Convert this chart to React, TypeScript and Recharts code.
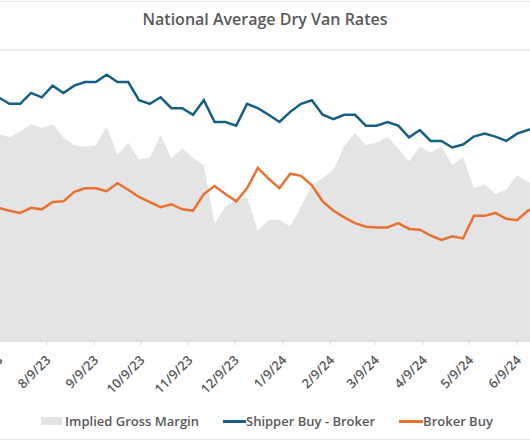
import { ComposedChart, Area, Line, XAxis, YAxis, CartesianGrid } from 'recharts';

// weekly observations (first and last are just off the visible edge)
const weeks = [
  '7/2/23', '7/9/23', '7/16/23', '7/23/23', '7/30/23', '8/6/23', '8/13/23', '8/20/23', '8/27/23',
  '9/3/23', '9/10/23', '9/17/23', '9/24/23', '10/1/23', '10/8/23', '10/15/23', '10/22/23', '10/29/23',
  '11/5/23', '11/12/23', '11/19/23', '11/26/23', '12/3/23', '12/10/23', '12/17/23', '12/24/23', '12/31/23',
  '1/7/24', '1/14/24', '1/21/24', '1/28/24', '2/4/24', '2/11/24', '2/18/24', '2/25/24', '3/3/24',
  '3/10/24', '3/17/24', '3/24/24', '3/31/24', '4/7/24', '4/14/24', '4/21/24', '4/28/24', '5/5/24',
  '5/12/24', '5/19/24', '5/26/24', '6/2/24', '6/9/24', '6/16/24', '6/23/24',
];

// $/mile
const shipperBuy = [
  3.30, 3.35, 3.26, 3.26, 3.41, 3.35, 3.51, 3.41, 3.51, 3.56,
  3.56, 3.66, 3.56, 3.56, 3.31, 3.26, 3.35, 3.20, 3.20, 3.11,
  3.31, 3.01, 3.01, 2.96, 3.26, 3.20, 3.11, 3.01, 3.15, 3.26,
  3.31, 3.11, 3.05, 3.11, 3.11, 2.96, 2.96, 3.01, 2.96, 2.80,
  2.90, 2.75, 2.75, 2.66, 2.70, 2.81, 2.85, 2.81, 2.75, 2.85,
  2.90, 2.93,
];

const brokerBuy = [
  1.85, 1.83, 1.79, 1.76, 1.83, 1.81, 1.91, 1.92, 2.05, 2.10,
  2.10, 2.06, 2.17, 2.08, 1.98, 1.91, 1.84, 1.88, 1.81, 1.79,
  2.02, 2.13, 2.02, 1.92, 2.10, 2.38, 2.23, 2.10, 2.30, 2.27,
  2.14, 1.92, 1.79, 1.70, 1.62, 1.57, 1.56, 1.56, 1.62, 1.54,
  1.53, 1.45, 1.39, 1.44, 1.41, 1.72, 1.72, 1.76, 1.68, 1.66,
  1.79, 1.86,
];

// %
const grossMargin = [
  28.0, 28.5, 28.0, 28.8, 29.8, 29.3, 29.8, 28.0, 26.9, 26.7,
  26.9, 29.5, 25.6, 27.3, 24.9, 25.2, 28.3, 25.1, 26.5, 25.2,
  24.1, 16.1, 18.5, 19.4, 19.8, 15.2, 16.6, 16.7, 15.7, 18.5,
  21.4, 22.4, 23.5, 26.8, 28.6, 26.9, 27.3, 28.0, 26.5, 24.7,
  26.7, 25.9, 26.7, 24.2, 25.3, 21.0, 21.5, 20.2, 20.8, 22.8,
  21.9, 21.5,
];

const monthTicks = [
  '7/9/23', '8/9/23', '9/9/23', '10/9/23', '11/9/23', '12/9/23',
  '1/9/24', '2/9/24', '3/9/24', '4/9/24', '5/9/24', '6/9/24',
];

const rateTicks = [0, 0.5, 1, 1.5, 2, 2.5, 3, 3.5, 4];

function dayNum(s: string) {
  const [m, d, y] = s.split('/').map(Number);
  return Date.UTC(2000 + y, m - 1, d) / 86400000;
}

const data = weeks.map((w, i) => ({
  day: dayNum(w),
  label: w,
  'Implied Gross Margin': grossMargin[i],
  'Shipper Buy - Broker': shipperBuy[i],
  'Broker Buy': brokerBuy[i],
}));

const GRAY = '#595959';
const FONT = '"Open Sans", sans-serif';

function DateTick(props: any) {
  const { x, y, payload } = props;
  const d = new Date(payload.value * 86400000);
  const txt = `${d.getUTCMonth() + 1}/${d.getUTCDate()}/${String(d.getUTCFullYear()).slice(2)}`;
  const tx = x + 5;
  const ty = y + 14;
  return (
    <text x={tx} y={ty} transform={`rotate(-45, ${tx}, ${ty})`} textAnchor="end"
      fill={GRAY} fontSize={13} fontWeight={600} fontFamily={FONT}>
      {txt}
    </text>
  );
}

export default function App() {
  return (
    <div style={{ position: 'absolute', left: 0, top: 0, width: 530, height: 443, overflow: 'hidden', background: '#fff' }}>
      <div style={{ position: 'absolute', left: -5, top: 1, width: 540, height: 437, border: '1px solid #e6e6e6' }} />
      <div style={{
        position: 'absolute', top: 8, left: 0, width: 530, textAlign: 'center',
        fontFamily: FONT, fontWeight: 600, fontSize: 16, color: GRAY,
      }}>
        National Average Dry Van Rates
      </div>
      <div style={{ position: 'absolute', left: -23, top: 0 }}>
        <ComposedChart width={574} height={401} data={data} margin={{ top: 50, right: 0, left: 0, bottom: 0 }}>
          <CartesianGrid horizontal vertical={false} stroke="#d9d9d9" />
          <XAxis dataKey="day" type="number" domain={[dayNum('6/25/23'), dayNum('7/1/24')]}
            ticks={monthTicks.map(dayNum)} interval={0} allowDataOverflow
            axisLine={{ stroke: '#d9d9d9' }} tickLine={{ stroke: '#d9d9d9' }} tickSize={4}
            height={60} tick={<DateTick />} />
          <YAxis yAxisId="rate" hide domain={[0, 4]} ticks={rateTicks} />
          <YAxis yAxisId="margin" hide orientation="right" domain={[0, 40]} />
          <Area yAxisId="margin" type="linear" dataKey="Implied Gross Margin" stroke="none"
            fill="#d9d9d9" fillOpacity={0.72} isAnimationActive={false} />
          <Line yAxisId="rate" type="linear" dataKey="Shipper Buy - Broker" stroke="#156082"
            strokeWidth={2.5} dot={false} isAnimationActive={false} />
          <Line yAxisId="rate" type="linear" dataKey="Broker Buy" stroke="#E97132"
            strokeWidth={2.5} dot={false} isAnimationActive={false} />
        </ComposedChart>
      </div>
      <div style={{
        position: 'absolute', top: 412, left: 0, width: 534, display: 'flex', justifyContent: 'center',
        alignItems: 'center', gap: 24, fontFamily: FONT, fontWeight: 600, fontSize: 13, color: GRAY,
      }}>
        <span style={{ display: 'flex', alignItems: 'center', gap: 3 }}>
          <span style={{ width: 21, height: 8, background: '#e3e3e3', display: 'inline-block' }} />
          Implied Gross Margin
        </span>
        <span style={{ display: 'flex', alignItems: 'center', gap: 0 }}>
          <span style={{ width: 23, height: 3, background: '#156082', display: 'inline-block' }} />
          Shipper Buy - Broker
        </span>
        <span style={{ display: 'flex', alignItems: 'center', gap: 0 }}>
          <span style={{ width: 24, height: 3, background: '#E97132', display: 'inline-block' }} />
          Broker Buy
        </span>
      </div>
    </div>
  );
}
